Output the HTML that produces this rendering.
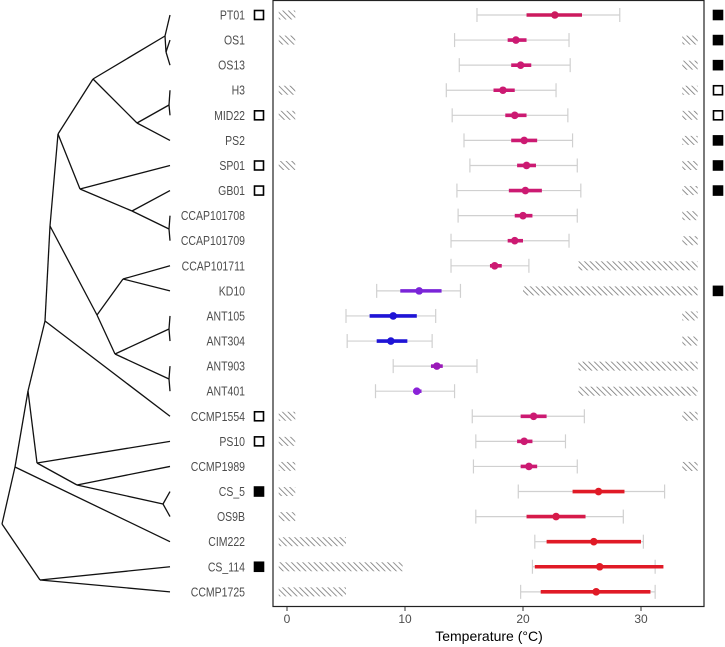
<!DOCTYPE html>
<html><head><meta charset="utf-8"><style>
html,body{margin:0;padding:0;background:#fff;}
svg{display:block;font-family:"Liberation Sans",Arial,sans-serif;}
</style></head><body>
<svg id="chart" width="725" height="647">
<defs>
<pattern id="hatch" patternUnits="userSpaceOnUse" width="4" height="4" patternTransform="rotate(-45)">
<rect width="4" height="4" fill="#fff"/><line x1="0" y1="0" x2="0" y2="4" stroke="#777" stroke-width="1.6"/>
</pattern>
</defs>
<g id="tree"></g>
<g id="labels"></g>
<rect x="273" y="0.5" width="431" height="606" fill="none" stroke="#222" stroke-width="1.2"/>
<g id="marks"></g>
<g id="axis"></g>
<text x="489" y="641" text-anchor="middle" font-size="14" fill="#000">Temperature (°C)</text>
</svg>
<script>
const strains=["PT01","OS1","OS13","H3","MID22","PS2","SP01","GB01","CCAP101708","CCAP101709","CCAP101711","KD10","ANT105","ANT304","ANT903","ANT401","CCMP1554","PS10","CCMP1989","CS_5","OS9B","CIM222","CS_114","CCMP1725"];
const rangeLo=[16.1,14.2,14.6,13.5,14.0,15.0,15.5,14.4,14.5,13.9,13.9,7.6,5.0,5.1,9.0,7.5,15.7,16.0,15.8,19.6,16.0,21.0,20.8,19.8];
const rangeHi=[28.2,23.9,24.0,22.8,23.8,24.2,24.6,24.9,24.6,23.9,20.5,14.7,12.6,12.3,16.1,14.2,25.2,23.6,24.6,32.0,28.5,30.2,31.2,31.2];
const qLo=[20.3,18.7,19.0,17.5,18.5,19.0,19.5,18.8,19.3,18.7,17.2,9.6,7.0,7.6,12.2,10.7,19.8,19.5,19.8,24.2,20.3,22.0,21.0,21.5];
const qHi=[25.0,20.3,20.7,19.3,20.3,21.2,21.1,21.6,20.8,20.0,18.2,13.1,11.0,10.2,13.2,11.4,22.0,20.8,21.2,28.6,25.3,30.0,31.9,30.8];
const optimum=[22.7,19.4,19.8,18.3,19.3,20.1,20.3,20.2,20.0,19.3,17.6,11.2,9.0,8.8,12.7,11.0,20.9,20.1,20.5,26.4,22.8,26.0,26.5,26.2];
const groupColor=["#cc1a5e","#cc1a72","#cc1a72","#cc1a72","#cc1a72","#cc1a72","#cc1a72","#cc1a72","#cc1a72","#cc1a72","#cc1a72","#7a24d8","#1f14d6","#1f14d6","#9a1ab8","#8a22d8","#cc1a72","#cc1a72","#cc1a72","#e01a26","#d61a4a","#e01a26","#e01a26","#e01a26"];
const leftHatchEnd=[0.7,0.7,null,0.7,0.7,null,0.7,null,null,null,null,null,null,null,null,null,0.7,0.7,0.7,0.7,0.7,5.0,9.8,5.0];
const rightHatchStart=[null,33.5,33.5,33.5,33.5,33.5,33.5,33.5,33.5,33.5,24.7,20.0,33.5,33.5,24.7,24.7,33.5,null,33.5,null,null,null,null,null];
const leftSquare=["open",null,null,null,"open",null,"open","open",null,null,null,null,null,null,null,null,"open","open",null,"filled",null,null,"filled",null];
const rightSquare=["filled","filled","filled","open","open","filled","filled","filled",null,null,null,"filled",null,null,null,null,null,null,null,null,null,null,null,null];
const xTicks=[0,10,20,30];

const NS="http://www.w3.org/2000/svg";
function xs(t){return 287+11.8*t;}
function ys(i){return 15+i*25.08;}
function mk(tag,attrs,parent){const e=document.createElementNS(NS,tag);for(const k in attrs)e.setAttribute(k,attrs[k]);parent.appendChild(e);return e;}
const marks=document.getElementById('marks'),labels=document.getElementById('labels'),axis=document.getElementById('axis'),tree=document.getElementById('tree');
const HL=-0.7,HR=34.8;
strains.forEach((s,i)=>{
  const y=ys(i);
  const t=mk('text',{x:0,y:0,'text-anchor':'end','font-size':12.5,fill:'#4d4d4d',transform:'translate(245,'+(y+4.5)+') scale(0.84,1)'},labels);
  t.textContent=s;
  
  
  if(leftHatchEnd[i]!==null){
    const r=mk('rect',{x:xs(HL),y:y-4.5,width:xs(leftHatchEnd[i])-xs(HL),height:9,fill:'url(#hatch)'},marks);
    
    
  }
  if(rightHatchStart[i]!==null){
    const r=mk('rect',{x:xs(rightHatchStart[i]),y:y-4.5,width:xs(HR)-xs(rightHatchStart[i]),height:9,fill:'url(#hatch)'},marks);
    
    
  }
  const g=mk('g',{},marks);
  
  
  mk('line',{x1:xs(rangeLo[i]),x2:xs(rangeHi[i]),y1:y,y2:y,stroke:'#d0d0d0','stroke-width':1.2},g);
  mk('line',{x1:xs(rangeLo[i]),x2:xs(rangeLo[i]),y1:y-7,y2:y+7,stroke:'#d0d0d0','stroke-width':1.2},g);
  mk('line',{x1:xs(rangeHi[i]),x2:xs(rangeHi[i]),y1:y-7,y2:y+7,stroke:'#d0d0d0','stroke-width':1.2},g);
  mk('line',{x1:xs(qLo[i]),x2:xs(qHi[i]),y1:y,y2:y,stroke:groupColor[i],'stroke-width':3.6},g);
  mk('circle',{cx:xs(optimum[i]),cy:y,r:3.8,fill:groupColor[i]},g);
  if(leftSquare[i]){
    const q=mk('rect',{x:254.5,y:y-4.5,width:9,height:9,fill:leftSquare[i]==='filled'?'#000':'#fff',stroke:'#000','stroke-width':1.6},labels);
    
    
  }
  if(rightSquare[i]){
    const q=mk('rect',{x:713.5,y:y-4.5,width:9,height:9,fill:rightSquare[i]==='filled'?'#000':'#fff',stroke:'#000','stroke-width':1.6},labels);
    
    
  }
});
xTicks.forEach(v=>{
  mk('line',{x1:xs(v),x2:xs(v),y1:607,y2:611,stroke:'#333','stroke-width':1},axis);
  const t=mk('text',{x:xs(v),y:623,'text-anchor':'middle','font-size':12,fill:'#4d4d4d'},axis);
  t.textContent=v;
  
  
});
const N={N1:[165,36],N1b:[166,52],N2:[93,79],N3:[137,123],N3a:[169,105],N4:[58,134],N5:[80,189],N6:[132,211],N6a:[169,229],N7:[50,226],N8:[97,315],N9:[123,279],N10:[115,354],N10a:[169,329],N10b:[169,379],N11:[45,321],N12:[28,391],N13:[37,463],N14:[77,485],N15:[163,504],N16:[15,467],R:[2,524],N17:[40,580]};
function tip(i){return [170,ys(i)];}
const edges=[["N1",tip(0)],["N1","N1b"],["N1b",tip(1)],["N1b",tip(2)],["N2","N1"],["N2","N3"],["N3","N3a"],["N3a",tip(3)],["N3a",tip(4)],["N3",tip(5)],["N4","N2"],["N4","N5"],["N5",tip(6)],["N5","N6"],["N6",tip(7)],["N6","N6a"],["N6a",tip(8)],["N6a",tip(9)],["N7","N4"],["N7","N8"],["N8","N9"],["N9",tip(10)],["N9",tip(11)],["N8","N10"],["N10","N10a"],["N10a",tip(12)],["N10a",tip(13)],["N10","N10b"],["N10b",tip(14)],["N10b",tip(15)],["N11","N7"],["N11",tip(16)],["N12","N11"],["N12","N13"],["N13",tip(17)],["N13","N14"],["N14",tip(18)],["N14","N15"],["N15",tip(19)],["N15",tip(20)],["N16","N12"],["N16",tip(21)],["R","N16"],["R","N17"],["N17",tip(22)],["N17",tip(23)]];
edges.forEach(e=>{
  const a=typeof e[0]==='string'?N[e[0]]:e[0], b=typeof e[1]==='string'?N[e[1]]:e[1];
  const l=mk('line',{x1:a[0],y1:a[1],x2:b[0],y2:b[1],stroke:'#111','stroke-width':1.3},tree);
  
  
});
</script>
</body></html>
